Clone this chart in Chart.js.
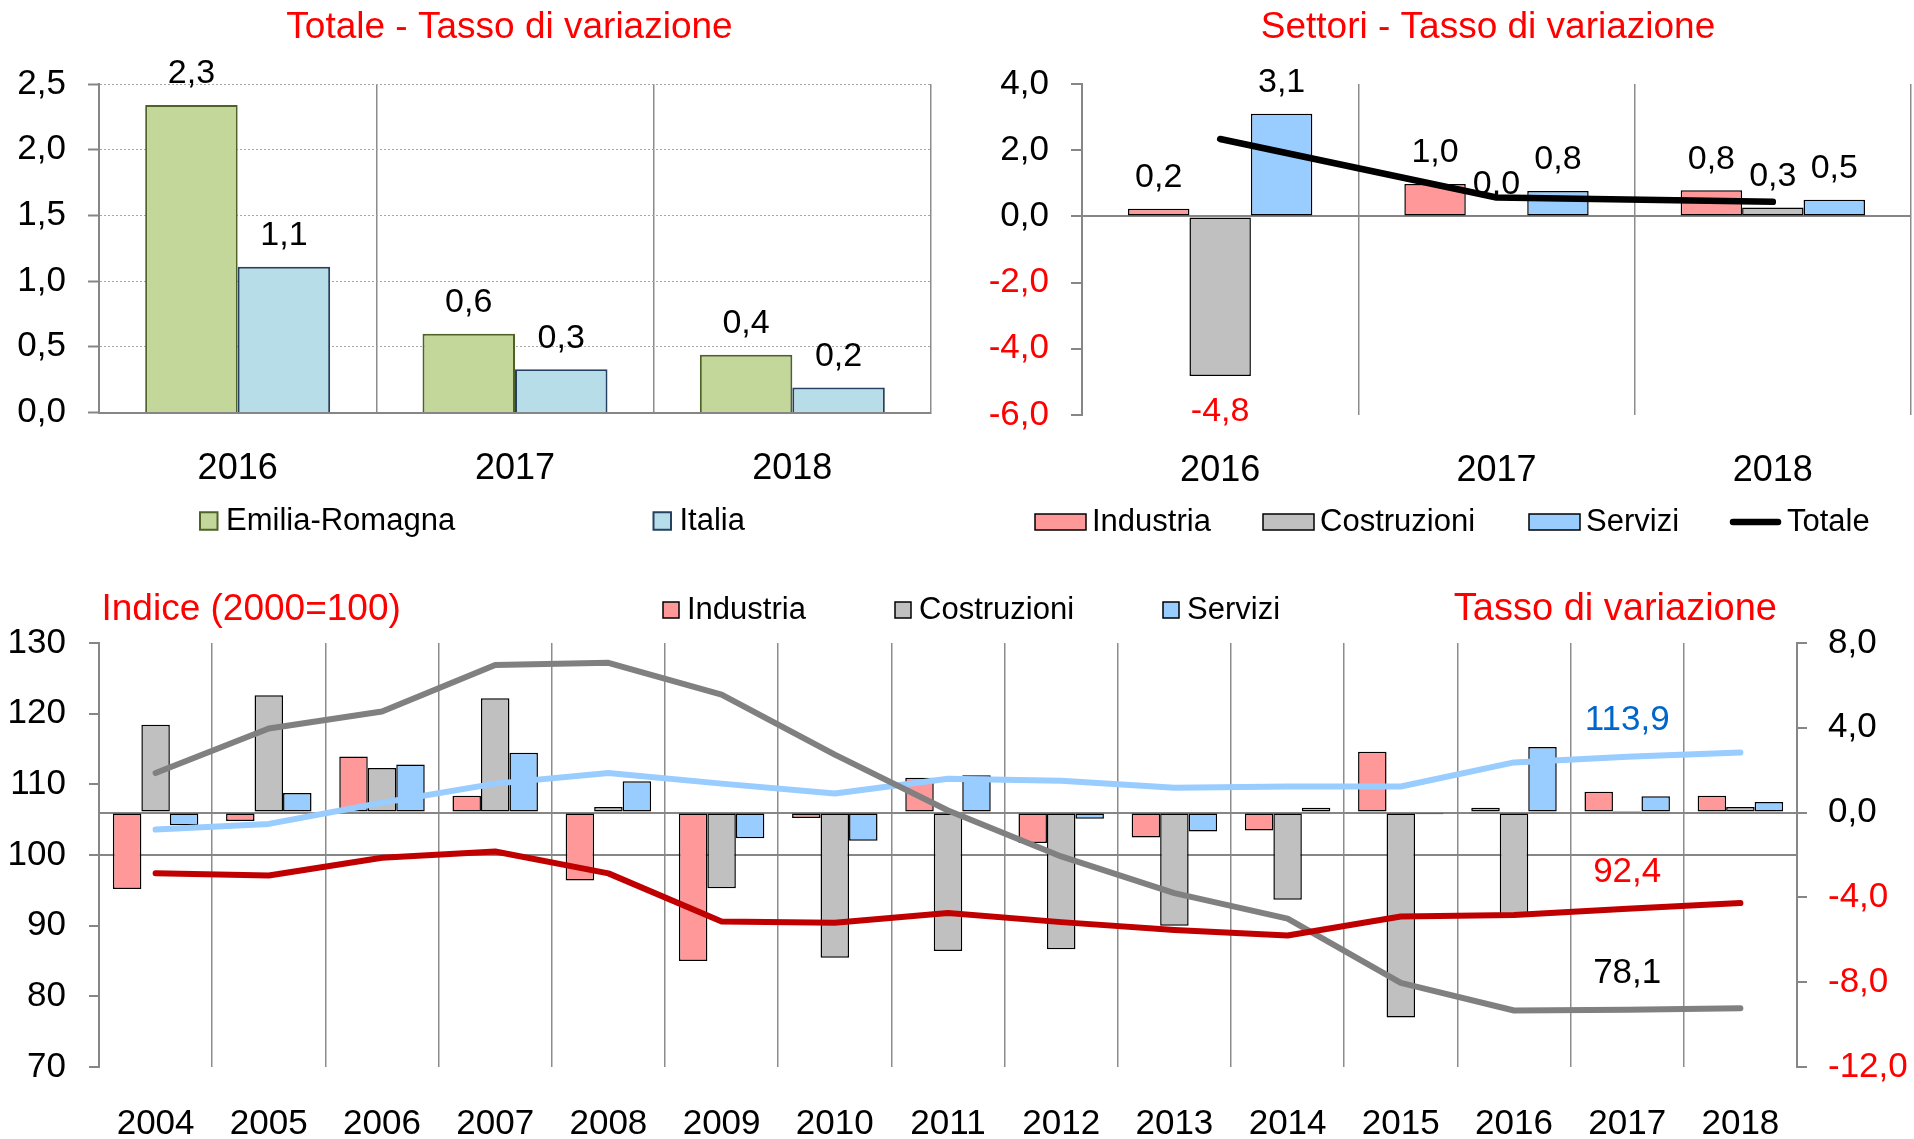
<!DOCTYPE html>
<html lang="it">
<head>
<meta charset="utf-8">
<title>Valore aggiunto - Emilia-Romagna</title>
<script src="https://cdn.jsdelivr.net/npm/chart.js@4/dist/chart.umd.min.js"></script>
<style>
    html, body { margin: 0; padding: 0; background: #fff; }
    #page { position: relative; width: 1914px; height: 1139px; overflow: hidden; }
    .panel { position: absolute; }
</style>
</head>
<body>
<div id="page">
    <div class="panel" style="left:0;top:0"><canvas id="totaleChart" width="950" height="545"></canvas></div>
    <div class="panel" style="left:950px;top:0"><canvas id="settoriChart" width="964" height="545"></canvas></div>
    <div class="panel" style="left:0;top:545px"><canvas id="indiciChart" width="1914" height="594"></canvas></div>
</div>
<script>
// --- data ---
const anniRecenti = ["2016", "2017", "2018"];
const totaleEmilia = [2.34, 0.60, 0.44];
const totaleItalia = [1.11, 0.33, 0.19];

const settoriIndustria = [0.23, 0.98, 0.79];
const settoriCostruzioni = [-4.82, 0.02, 0.27];
const settoriServizi = [3.1, 0.77, 0.5];
const settoriTotale = [2.34, 0.57, 0.44];

const anni = ["2004", "2005", "2006", "2007", "2008", "2009", "2010", "2011",
              "2012", "2013", "2014", "2015", "2016", "2017", "2018"];
const tassoIndustria = [-3.6, -0.4, 2.65, 0.8, -3.2, -7.0, -0.25, 1.64, -1.43, -1.17, -0.84, 2.87, 0.23, 0.98, 0.79];
const tassoCostruzioni = [4.14, 5.54, 2.1, 5.39, 0.27, -3.57, -6.85, -6.53, -6.44, -5.34, -4.11, -9.66, -4.82, 0.02, 0.27];
const tassoServizi = [-0.6, 0.92, 2.27, 2.82, 1.48, -1.21, -1.33, 1.76, -0.29, -0.89, 0.23, -0.08, 3.1, 0.77, 0.5];
const indiceIndustria = [97.4, 97.1, 99.6, 100.5, 97.4, 90.6, 90.4, 91.8, 90.5, 89.4, 88.6, 91.3, 91.5, 92.4, 93.2];
const indiceCostruzioni = [111.6, 117.9, 120.3, 126.9, 127.2, 122.7, 114.2, 106.3, 99.8, 94.6, 91.0, 81.9, 78.0, 78.1, 78.3];
const indiceServizi = [103.6, 104.4, 107.4, 110.1, 111.6, 110.1, 108.7, 110.8, 110.5, 109.5, 109.7, 109.7, 113.1, 113.9, 114.5];

// --- shared look ---
const FONT = '"Liberation Sans", Arial, Helvetica, sans-serif';
const RED = "#FF0000";
const AXIS = "#868686";
const GRID = "#8C8C8C";

Chart.defaults.font.family = FONT;
Chart.defaults.color = "#000";

const fmt = (v) => v.toFixed(1).replace(".", ",");
const redIfNegative = (ctx) => (ctx.tick && ctx.tick.value < 0 ? RED : "#000");

// titles, free texts and hand-placed legends
const decorPlugin = {
    id: "decor",
    afterDraw(chart, args, opts) {
        const ctx = chart.ctx;
        ctx.save();
        ctx.textBaseline = "middle";
        (opts.texts || []).forEach((t) => {
            ctx.font = `${t.size}px ${FONT}`;
            ctx.fillStyle = t.color;
            ctx.textAlign = t.align || "center";
            ctx.fillText(t.text, t.x, t.y);
        });

        const lg = opts.legend;
        if (lg) {
            ctx.font = `${lg.size}px ${FONT}`;
            ctx.textAlign = "left";
            lg.items.forEach((it) => {
                const ds = chart.data.datasets[it.ds];
                const w = it.w || lg.w;
                if (ds.type === "line") {
                    ctx.strokeStyle = ds.borderColor;
                    ctx.lineWidth = ds.borderWidth;
                    ctx.lineCap = "round";
                    ctx.beginPath();
                    ctx.moveTo(it.x + 3, lg.y);
                    ctx.lineTo(it.x + w - 3, lg.y);
                    ctx.stroke();
                } else {
                    ctx.fillStyle = ds.backgroundColor;
                    ctx.fillRect(it.x, lg.y - lg.h / 2, w, lg.h);
                    ctx.strokeStyle = ds.borderColor;
                    ctx.lineWidth = lg.lw;
                    ctx.strokeRect(it.x, lg.y - lg.h / 2, w, lg.h);
                }
                ctx.fillStyle = "#000";
                ctx.fillText(ds.label, it.x + w + lg.gap, lg.y);
            });
        }
        ctx.restore();
    },
};

// value labels over / under the bars
const barLabelPlugin = {
    id: "barLabels",
    afterDatasetsDraw(chart, args, opts) {
        if (!opts.size) return;
        const ctx = chart.ctx;
        ctx.save();
        ctx.font = `${opts.size}px ${FONT}`;
        ctx.textAlign = "center";
        ctx.textBaseline = "middle";
        chart.data.datasets.forEach((ds, i) => {
            if (ds.type === "line") return;
            chart.getDatasetMeta(i).data.forEach((bar, j) => {
                const v = ds.data[j];
                ctx.fillStyle = v < 0 ? RED : "#000";
                ctx.fillText(fmt(v), bar.x, v >= 0 ? bar.y - opts.above : bar.y + opts.below);
            });
        });
        ctx.restore();
    },
};

// index value written above the lines at one year
const lineLabelPlugin = {
    id: "lineLabels",
    afterDatasetsDraw(chart, args, opts) {
        if (!opts.items) return;
        const ctx = chart.ctx;
        ctx.save();
        ctx.font = `${opts.size}px ${FONT}`;
        ctx.textAlign = "center";
        ctx.textBaseline = "middle";
        opts.items.forEach((it) => {
            const ds = chart.data.datasets[it.ds];
            const pt = chart.getDatasetMeta(it.ds).data[opts.index];
            ctx.fillStyle = it.color;
            ctx.fillText(fmt(ds.data[opts.index]), pt.x, pt.y - opts.offset);
        });
        ctx.restore();
    },
};

const basePlugins = { legend: { display: false }, tooltip: { enabled: false } };

// ---------- Totale - Tasso di variazione ----------
new Chart(document.getElementById("totaleChart"), {
    type: "bar",
    data: {
        labels: anniRecenti,
        datasets: [
            { label: "Emilia-Romagna", data: totaleEmilia, backgroundColor: "#C4D79B", borderColor: "#4F6228", borderWidth: 2 },
            { label: "Italia", data: totaleItalia, backgroundColor: "#B7DEE8", borderColor: "#254061", borderWidth: 2 },
        ],
    },
    options: {
        responsive: false,
        animation: false,
        events: [],
        layout: { padding: { left: 0, right: 19, top: 84, bottom: 0 } },
        datasets: { bar: { categoryPercentage: 0.667, barPercentage: 1 } },
        scales: {
            x: {
                grid: { offset: true, color: GRID, lineWidth: 1.5, drawTicks: false },
                border: { display: true, color: AXIS, width: 2 },
                ticks: { font: { size: 36 }, padding: 35 },
                afterFit: (s) => { s.height = 132.5; },
            },
            y: {
                min: 0,
                max: 2.5,
                ticks: { stepSize: 0.5, callback: (v) => fmt(v), font: { size: 35 }, padding: 22 },
                grid: { color: "#A6A6A6", lineWidth: 1, tickLength: 11, tickColor: AXIS, tickWidth: 2 },
                border: { color: AXIS, width: 2, dash: [2, 2] },
                afterFit: (s) => { s.width = 99; },
            },
        },
        plugins: {
            ...basePlugins,
            decor: {
                texts: [{ text: "Totale - Tasso di variazione", x: 509.5, y: 28, size: 37, color: RED }],
                legend: {
                    size: 31, y: 521, h: 17.5, w: 17.5, lw: 2, gap: 8.5,
                    items: [{ ds: 0, x: 200 }, { ds: 1, x: 653.5 }],
                },
            },
            barLabels: { size: 34, above: 31, below: 36 },
        },
    },
    plugins: [decorPlugin, barLabelPlugin],
});

// ---------- Settori - Tasso di variazione ----------
new Chart(document.getElementById("settoriChart"), {
    type: "bar",
    data: {
        labels: anniRecenti,
        datasets: [
            { label: "Industria", data: settoriIndustria, backgroundColor: "#FF9999", borderColor: "#000", borderWidth: 1.5, borderSkipped: false, order: 2 },
            { label: "Costruzioni", data: settoriCostruzioni, backgroundColor: "#C0C0C0", borderColor: "#000", borderWidth: 1.5, borderSkipped: false, order: 2 },
            { label: "Servizi", data: settoriServizi, backgroundColor: "#99CCFF", borderColor: "#000", borderWidth: 1.5, borderSkipped: false, order: 2 },
            {
                type: "line", label: "Totale", data: settoriTotale, borderColor: "#000", borderWidth: 6.5,
                pointRadius: 0, borderCapStyle: "round", borderJoinStyle: "round", order: 1,
            },
        ],
    },
    options: {
        responsive: false,
        animation: false,
        events: [],
        layout: { padding: { left: 0, right: 3, top: 84, bottom: 0 } },
        datasets: { bar: { categoryPercentage: 0.667, barPercentage: 1 } },
        scales: {
            x: {
                grid: { offset: true, color: GRID, lineWidth: 1.5, drawTicks: false },
                border: { display: false },
                ticks: { font: { size: 36 }, padding: 34 },
                afterFit: (s) => { s.height = 130; },
            },
            y: {
                min: -6,
                max: 4,
                ticks: { stepSize: 2, callback: (v) => fmt(v), color: redIfNegative, font: { size: 35 }, padding: 22 },
                grid: {
                    color: (ctx) => (ctx.tick && ctx.tick.value === 0 ? AXIS : "rgba(0,0,0,0)"),
                    lineWidth: 2, tickLength: 11, tickColor: AXIS, tickWidth: 2,
                },
                border: { color: AXIS, width: 2 },
                afterFit: (s) => { s.width = 132; },
            },
        },
        plugins: {
            ...basePlugins,
            decor: {
                texts: [{ text: "Settori - Tasso di variazione", x: 538, y: 28, size: 37, color: RED }],
                legend: {
                    size: 31, y: 522, h: 16, w: 51, lw: 1.5, gap: 6,
                    items: [{ ds: 0, x: 85 }, { ds: 1, x: 313 }, { ds: 2, x: 579 }, { ds: 3, x: 780 }],
                },
            },
            barLabels: { size: 34, above: 31, below: 36 },
        },
    },
    plugins: [decorPlugin, barLabelPlugin],
});

// ---------- Indici e tassi di variazione 2004-2018 ----------
new Chart(document.getElementById("indiciChart"), {
    type: "bar",
    data: {
        labels: anni,
        datasets: [
            { label: "Industria", data: tassoIndustria, yAxisID: "y1", backgroundColor: "#FF9999", borderColor: "#000", borderWidth: 1.5, borderSkipped: false, order: 2 },
            { label: "Costruzioni", data: tassoCostruzioni, yAxisID: "y1", backgroundColor: "#C0C0C0", borderColor: "#000", borderWidth: 1.5, borderSkipped: false, order: 2 },
            { label: "Servizi", data: tassoServizi, yAxisID: "y1", backgroundColor: "#99CCFF", borderColor: "#000", borderWidth: 1.5, borderSkipped: false, order: 2 },
            { type: "line", label: "Indice Industria", data: indiceIndustria, yAxisID: "y", borderColor: "#C00000", borderWidth: 6, pointRadius: 0, borderCapStyle: "round", borderJoinStyle: "round", order: 1 },
            { type: "line", label: "Indice Costruzioni", data: indiceCostruzioni, yAxisID: "y", borderColor: "#808080", borderWidth: 6, pointRadius: 0, borderCapStyle: "round", borderJoinStyle: "round", order: 1 },
            { type: "line", label: "Indice Servizi", data: indiceServizi, yAxisID: "y", borderColor: "#99CCFF", borderWidth: 6, pointRadius: 0, borderCapStyle: "round", borderJoinStyle: "round", order: 1 },
        ],
    },
    options: {
        responsive: false,
        animation: false,
        events: [],
        layout: { padding: { left: 0, right: 0, top: 98, bottom: 0 } },
        datasets: { bar: { categoryPercentage: 0.755, barPercentage: 1 } },
        scales: {
            x: {
                grid: { offset: true, color: GRID, lineWidth: 1.5, drawTicks: false },
                border: { display: false },
                ticks: { font: { size: 35 }, padding: 36 },
                afterFit: (s) => { s.height = 72; },
            },
            y: {
                position: "left",
                min: 70,
                max: 130,
                ticks: { stepSize: 10, font: { size: 35 }, padding: 23 },
                grid: {
                    color: (ctx) => (ctx.tick && ctx.tick.value === 100 ? AXIS : "rgba(0,0,0,0)"),
                    lineWidth: 2, tickLength: 10, tickColor: AXIS, tickWidth: 2,
                },
                border: { color: AXIS, width: 2 },
                afterFit: (s) => { s.width = 99; },
            },
            y1: {
                position: "right",
                min: -12,
                max: 8,
                ticks: { stepSize: 4, callback: (v) => fmt(v), color: redIfNegative, font: { size: 35 }, padding: 21 },
                grid: {
                    color: (ctx) => (ctx.tick && ctx.tick.value === 0 ? AXIS : "rgba(0,0,0,0)"),
                    lineWidth: 2, tickLength: 10, tickColor: AXIS, tickWidth: 2,
                },
                border: { color: AXIS, width: 2 },
                afterFit: (s) => { s.width = 117; },
            },
        },
        plugins: {
            ...basePlugins,
            decor: {
                texts: [
                    { text: "Indice (2000=100)", x: 101.5, y: 65, size: 37, color: RED, align: "left" },
                    { text: "Tasso di variazione", x: 1777, y: 65, size: 38, color: RED, align: "right" },
                ],
                legend: {
                    size: 31, y: 65, h: 16, w: 16, lw: 1.5, gap: 8,
                    items: [{ ds: 0, x: 663 }, { ds: 1, x: 895 }, { ds: 2, x: 1163 }],
                },
            },
            lineLabels: {
                index: 13, offset: 36, size: 35,
                items: [
                    { ds: 5, color: "#0066CC" },
                    { ds: 3, color: RED },
                    { ds: 4, color: "#000" },
                ],
            },
        },
    },
    plugins: [decorPlugin, lineLabelPlugin],
});
</script>
</body>
</html>
